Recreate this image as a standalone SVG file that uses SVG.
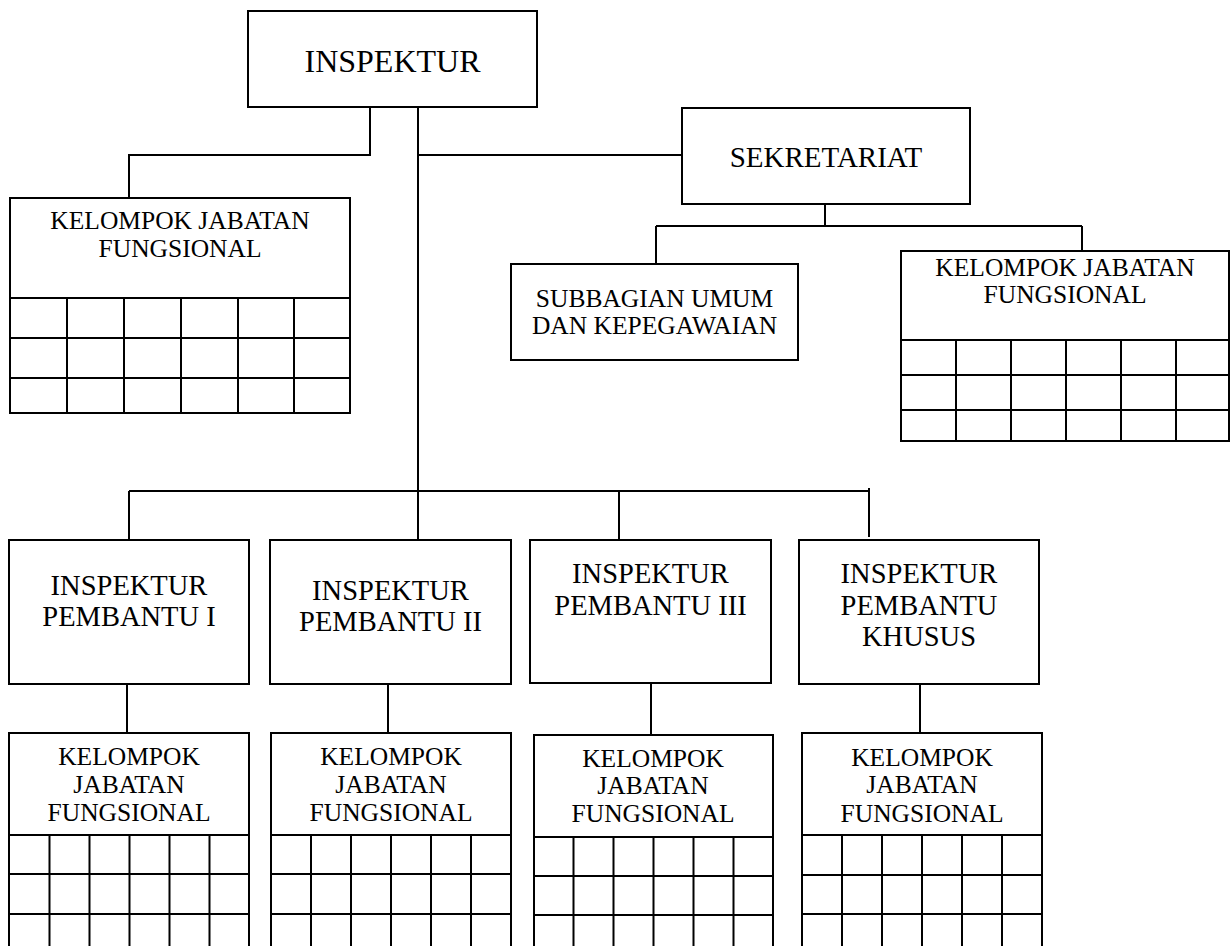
<svg xmlns="http://www.w3.org/2000/svg" width="1231" height="946" viewBox="0 0 1231 946">
<style>
.box{fill:#fff;stroke:#000;stroke-width:2}
.ln{fill:none;stroke:#000;stroke-width:2}
text{font-family:"Liberation Serif","Times New Roman",serif;fill:#000;text-anchor:middle}
.t30{font-size:32px}
.t28{font-size:28.5px}
.t27{font-size:29px}
.t25{font-size:25.5px}
</style>
<rect width="1231" height="946" fill="#fff"/>
<g id="connectors" class="ln">
<path d="M370 107V155H129V198"/>
<path d="M418 107V540"/>
<path d="M418 155H682"/>
<path d="M129 491H869"/>
<path d="M129 491V540"/>
<path d="M619 491V540"/>
<path d="M869 488V537"/>
<path d="M825 204V226"/>
<path d="M656 226H1082"/>
<path d="M656 226V264"/>
<path d="M1082 226V251"/>
<path d="M127 684V733"/>
<path d="M388 684V733"/>
<path d="M651 684V735"/>
<path d="M920 684V733"/>
</g>
<g id="inspektur">
<rect class="box" x="248" y="11" width="289" height="96"/>
<text class="t30" x="392.5" y="72">INSPEKTUR</text>
</g>
<g id="sekretariat">
<rect class="box" x="682" y="108" width="288" height="96"/>
<text class="t27" x="826" y="167">SEKRETARIAT</text>
</g>
<g id="subbagian">
<rect class="box" x="511" y="264" width="287" height="96"/>
<text class="t25" x="654.5" y="307">SUBBAGIAN UMUM</text>
<text class="t25" x="654.5" y="334">DAN KEPEGAWAIAN</text>
</g>
<g id="kjf-left">
<rect class="box" x="10" y="198" width="340" height="215"/>
<path class="ln" d="M10 298H350M10 338H350M10 378H350M67 298V413M124 298V413M181 298V413M238 298V413M294 298V413"/>
<text class="t25" x="180" y="229">KELOMPOK JABATAN</text>
<text class="t25" x="180" y="257">FUNGSIONAL</text>
</g>
<g id="kjf-sekretariat">
<rect class="box" x="901" y="251" width="328" height="190"/>
<path class="ln" d="M901 340H1229M901 375H1229M901 410H1229M956 340V441M1011 340V441M1066 340V441M1121 340V441M1176 340V441"/>
<text class="t25" x="1065" y="276">KELOMPOK JABATAN</text>
<text class="t25" x="1065" y="303">FUNGSIONAL</text>
</g>
<g id="ip1">
<rect class="box" x="9" y="540" width="240" height="144"/>
<text class="t28" x="129" y="595">INSPEKTUR</text>
<text class="t28" x="129" y="626">PEMBANTU I</text>
</g>
<g id="ip2">
<rect class="box" x="270" y="540" width="241" height="144"/>
<text class="t28" x="390.5" y="600">INSPEKTUR</text>
<text class="t28" x="390.5" y="631">PEMBANTU II</text>
</g>
<g id="ip3">
<rect class="box" x="530" y="540" width="241" height="143"/>
<text class="t28" x="650.5" y="583">INSPEKTUR</text>
<text class="t28" x="650.5" y="615">PEMBANTU III</text>
</g>
<g id="ipk">
<rect class="box" x="799" y="540" width="240" height="144"/>
<text class="t28" x="919" y="583">INSPEKTUR</text>
<text class="t28" x="919" y="615">PEMBANTU</text>
<text class="t28" x="919" y="646">KHUSUS</text>
</g>
<g id="kjf1">
<rect class="box" x="9" y="733" width="240" height="220"/>
<path class="ln" d="M9 835H249M9 874H249M9 914H249M49.5 835V953M89.5 835V953M129.5 835V953M169.5 835V953M209.5 835V953"/>
<text class="t25" x="129" y="765">KELOMPOK</text>
<text class="t25" x="129" y="793">JABATAN</text>
<text class="t25" x="129" y="821">FUNGSIONAL</text>
</g>
<g id="kjf2">
<rect class="box" x="271" y="733" width="240" height="220"/>
<path class="ln" d="M271 835H511M271 874H511M271 914H511M311 835V953M351 835V953M391 835V953M431 835V953M471 835V953"/>
<text class="t25" x="391" y="765">KELOMPOK</text>
<text class="t25" x="391" y="793">JABATAN</text>
<text class="t25" x="391" y="821">FUNGSIONAL</text>
</g>
<g id="kjf3">
<rect class="box" x="534" y="735" width="239" height="220"/>
<path class="ln" d="M534 837H773M534 876H773M534 915H773M573.5 837V955M613.5 837V955M653.5 837V955M693.5 837V955M733.5 837V955"/>
<text class="t25" x="653" y="767">KELOMPOK</text>
<text class="t25" x="653" y="794">JABATAN</text>
<text class="t25" x="653" y="822">FUNGSIONAL</text>
</g>
<g id="kjfk">
<rect class="box" x="802" y="733" width="240" height="220"/>
<path class="ln" d="M802 835H1042M802 875H1042M802 914H1042M842 835V953M882 835V953M922 835V953M962 835V953M1002 835V953"/>
<text class="t25" x="922" y="766">KELOMPOK</text>
<text class="t25" x="922" y="793">JABATAN</text>
<text class="t25" x="922" y="822">FUNGSIONAL</text>
</g>
</svg>
